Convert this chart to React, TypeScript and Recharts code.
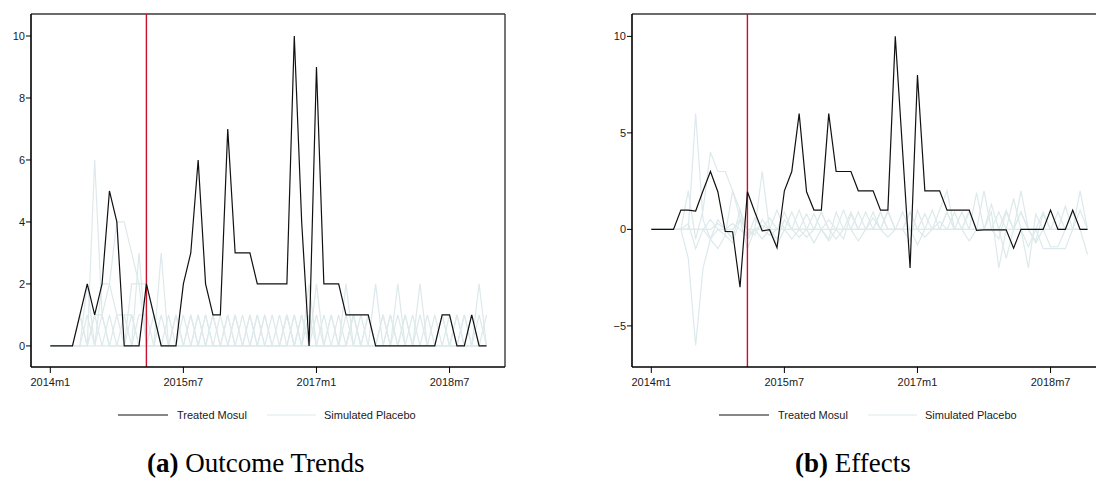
import React from "react";
import {
  LineChart,
  Line,
  XAxis,
  YAxis,
  ReferenceLine,
} from "recharts";

// monthly index 0 = 2014m1 ... 59 = 2018m12
const xTicks = [0, 18, 36, 54];
const xTickLabels = ["2014m1", "2015m7", "2017m1", "2018m7"];
const xDomain: [number, number] = [-2.61, 61.5];
const treatmentMonth = 13; // 2015m2

const trendTicks = [0, 2, 4, 6, 8, 10];
const effectTicks = [-5, 0, 5, 10];

// (a) outcome, treated unit
const treatedOutcome = [
  0, 0, 0, 0, 1, 2, 1, 2, 5, 4,
  0, 0, 0, 2, 1, 0, 0, 0, 2, 3,
  6, 2, 1, 1, 7, 3, 3, 3, 2, 2,
  2, 2, 2, 10, 4, 0, 9, 2, 2, 2,
  1, 1, 1, 1, 0, 0, 0, 0, 0, 0,
  0, 0, 0, 1, 1, 0, 0, 1, 0, 0,
];

// (a) outcome, placebo units
const placeboOutcome1 = [
  0, 0, 0, 0, 0, 0, 6, 1, 0, 0,
  0, 1, 0, 0, 1, 0, 0, 0, 0, 1,
  0, 0, 0, 1, 0, 0, 0, 1, 0, 0,
  0, 0, 1, 0, 0, 0, 1, 0, 0, 0,
  0, 1, 0, 0, 2, 0, 0, 0, 1, 0,
  0, 0, 0, 1, 0, 0, 0, 1, 0, 0,
];
const placeboOutcome2 = [
  0, 0, 0, 0, 0, 0, 1, 1, 2, 4,
  4, 3, 2, 2, 1, 0, 0, 1, 0, 0,
  1, 0, 0, 0, 1, 0, 0, 1, 0, 0,
  1, 0, 0, 1, 0, 2, 0, 0, 1, 0,
  2, 0, 0, 1, 0, 0, 0, 2, 0, 0,
  1, 0, 0, 0, 1, 0, 1, 0, 0, 0,
];
const placeboOutcome3 = [
  0, 0, 0, 0, 1, 0, 0, 2, 2, 1,
  1, 0, 3, 0, 0, 0, 1, 0, 0, 0,
  1, 0, 1, 0, 0, 1, 0, 0, 1, 0,
  0, 1, 0, 0, 1, 0, 0, 1, 0, 0,
  1, 0, 1, 0, 0, 1, 0, 0, 0, 0,
  2, 0, 0, 0, 0, 1, 0, 0, 0, 0,
];
const placeboOutcome4 = [
  0, 0, 0, 0, 0, 1, 0, 0, 1, 0,
  1, 1, 0, 0, 0, 3, 0, 0, 1, 0,
  0, 1, 0, 0, 0, 0, 1, 0, 0, 1,
  0, 0, 0, 1, 0, 0, 2, 0, 0, 0,
  0, 1, 0, 0, 0, 0, 1, 0, 0, 1,
  0, 0, 0, 0, 0, 0, 0, 0, 2, 0,
];
const placeboOutcome5 = [
  0, 0, 0, 0, 1, 0, 1, 0, 0, 1,
  0, 2, 2, 0, 0, 1, 0, 0, 0, 1,
  0, 0, 1, 0, 0, 1, 0, 0, 0, 1,
  0, 0, 1, 0, 0, 1, 0, 0, 0, 1,
  0, 0, 0, 1, 0, 0, 1, 0, 1, 0,
  0, 1, 0, 1, 0, 0, 1, 0, 1, 0,
];
const placeboOutcome6 = [
  0, 0, 0, 0, 0, 2, 0, 1, 0, 0,
  0, 0, 1, 1, 0, 0, 0, 1, 0, 0,
  0, 1, 0, 0, 1, 0, 0, 0, 1, 0,
  0, 0, 1, 0, 1, 0, 0, 0, 1, 0,
  0, 1, 0, 0, 0, 1, 0, 1, 0, 0,
  0, 0, 1, 0, 0, 1, 0, 0, 0, 1,
];

// (b) effects, treated unit
const treatedEffect = [
  0, 0, 0, 0, 1, 1, 0.95, 2, 3, 1.95,
  -0.1, -0.12, -3, 1.95, 0.9, -0.08, -0.02, -0.95, 2, 3,
  6, 1.95, 1, 1, 6, 3, 3, 3, 2, 2,
  2, 1, 1, 10, 4, -2, 8, 2, 2, 2,
  1, 1, 1, 1, -0.05, -0.03, -0.03, -0.02, -0.02, -0.97,
  0, 0, 0, 0, 1, 0, 0, 1, 0, 0,
];

// (b) effects, placebo units
const placeboEffect1 = [
  0, 0, 0, 0, 0, 0, 6, 0.5, -0.5, 0,
  0, 0.3, 0, -0.4, 0.6, 0, -0.3, 0, 0, 0.9,
  0, -0.4, 0, 0.9, 0, 0, -0.5, 0.8, 0, 0,
  0, 0, 0.9, 0, 0, -0.6, 1, 0, 0, 0,
  0, 0.9, 0, 0, 1.9, 0, 0, -0.5, 0.9, 0,
  0, 0, -0.6, 0.8, 0, 0, 0, 0.9, 0, 0,
];
const placeboEffect2 = [
  0, 0, 0, 0, 0, -1.5, -6, -2, -0.5, 0.5,
  0, -0.5, 1, 0, -0.3, 0.5, 0, 0, 0.9, 0,
  0, 0.8, 0, 0, -0.5, 0.9, 0, 0, 0.9, 0,
  0, 0.9, 0, 0, 0, 0.9, 0, -0.4, 0, 1,
  2, 0, 0, 0.9, 0, 0, 0.9, -2, 0, 0,
  0.9, 0, 0, -1, -1, -1, -1, 0, 0, -1.3,
];
const placeboEffect3 = [
  0, 0, 0, 0, 0, 2, -0.5, 1, 4, 3,
  3, 2, 1, -0.5, 0, 0.2, 0, 1, 0, 0,
  1, 0, 0, 0.9, 0, 0, 1, 0, 0, 0.9,
  0, 0, 1, 0, 0, 0.9, 0, 0, 1, 0,
  0, 0, 0.9, 0, 0, 2, 0, 0, 0, 0,
  2, 0, 0, 0.9, 0, 0, 0, 0, 2, 0,
];
const placeboEffect4 = [
  0, 0, 0, 0, 0, 0, 0, 0, 0.5, 0,
  -0.3, 2, 0.6, -0.3, 0, 3, 0, -0.5, 0.5, 0,
  -0.4, 0, 0.8, 0, -0.6, 0, 0, 0.9, 0, 0,
  0.9, 0, -0.4, 0, 0.9, 0, 0, 0.8, 0, 0,
  0.9, 0, 0, 1, 0, 0, 0, 0.9, 0, 1.6,
  0, -2, 0.8, 0, 0, 0, 1.2, 0, 0, 0,
];
const placeboEffect5 = [
  0, 0, 0, 0, 0, 0.3, -1, 0, -0.5, -1,
  -0.3, -0.7, 0.5, -1, 0, -0.5, 0, -0.8, 0, -0.5,
  0, 0, -0.7, 0, 0, -0.5, 0, 0, -0.6, 0,
  0, 0.9, 0, 0, 0, 0, -0.8, 0, 0, 0,
  0.9, 0, 0, -0.6, 0, 0, 1.3, 0, -1.5, 0,
  0.9, 0, -0.7, 0, 0, 0.9, 0, 0, 0, 0,
];
const placeboEffect6 = [
  0, 0, 0, 0, 0, 0, 0, 0, 0, 0.3,
  0, 0, 0.5, 0, 0, 0, 0.6, 0, 0, 0,
  0, 0, 0, 0, 0.5, 0, 0, 0, 0, 0,
  0.6, 0, 0, 0, 0, 0, 0, 0, 0, 0.4,
  0, 0, 0, 0, 0, 0, 0, 0, 1, 0,
  0, -0.9, 0, 0, -0.9, -0.9, 0, 0, 1, 0,
];

const TREATED = "#111111";
const PLACEBO = "#dde9eb";
const RED = "#c8102e";
const FRAME = "#3a3a3a";
const FONT = "'Liberation Sans', Arial, sans-serif";

function buildRows(treated: number[], placebos: number[][]) {
  return treated.map((v, i) => {
    const row: Record<string, number> = { x: i, treated: v };
    placebos.forEach((p, k) => {
      row["p" + k] = p[i];
    });
    return row;
  });
}

const outcomeRows = buildRows(treatedOutcome, [
  placeboOutcome1,
  placeboOutcome2,
  placeboOutcome3,
  placeboOutcome4,
  placeboOutcome5,
  placeboOutcome6,
]);
const effectRows = buildRows(treatedEffect, [
  placeboEffect1,
  placeboEffect2,
  placeboEffect3,
  placeboEffect4,
  placeboEffect5,
  placeboEffect6,
]);

const fmtX = (v: number) => xTickLabels[xTicks.indexOf(v)] ?? "";
const fmtY = (v: number) => (v < 0 ? "\u2212" + Math.abs(v) : String(v));

interface PanelProps {
  rows: Record<string, number>[];
  yDomain: [number, number];
  yTicks: number[];
  left: number;
}

function Panel({ rows, yDomain, yTicks, left }: PanelProps) {
  const tickStyle = { fontSize: 11, fill: "#1a1a1a", fontFamily: FONT };
  return (
    <div style={{ position: "absolute", left, top: 0 }}>
      <LineChart
        width={520}
        height={400}
        data={rows}
        margin={{ top: 14, right: 15, bottom: 3, left: 0 }}
      >
        <XAxis
          dataKey="x"
          type="number"
          domain={xDomain}
          ticks={xTicks}
          tickFormatter={fmtX}
          allowDataOverflow
          height={30}
          tick={tickStyle}
          tickSize={6}
          tickMargin={5}
          axisLine={{ stroke: "#000", strokeWidth: 1.6 }}
          tickLine={{ stroke: "#000" }}
        />
        <YAxis
          type="number"
          domain={yDomain}
          ticks={yTicks}
          tickFormatter={fmtY}
          allowDataOverflow
          width={31}
          tick={tickStyle}
          tickSize={5}
          tickMargin={1}
          axisLine={{ stroke: "#000", strokeWidth: 1.6 }}
          tickLine={{ stroke: "#000" }}
        />
        {/* plot-region border on the top and right */}
        <ReferenceLine y={yDomain[1]} stroke={FRAME} strokeWidth={1.4} />
        <ReferenceLine x={xDomain[1]} stroke={FRAME} strokeWidth={1.4} />
        {[0, 1, 2, 3, 4, 5].map((k) => (
          <Line
            key={k}
            dataKey={"p" + k}
            type="linear"
            stroke={PLACEBO}
            strokeWidth={1.2}
            dot={false}
            isAnimationActive={false}
          />
        ))}
        <ReferenceLine x={treatmentMonth} stroke={RED} strokeWidth={1.4} />
        <Line
          dataKey="treated"
          type="linear"
          stroke={TREATED}
          strokeWidth={1.2}
          dot={false}
          isAnimationActive={false}
        />
      </LineChart>
    </div>
  );
}

function LegendRow({ left }: { left: number }) {
  const text: React.CSSProperties = {
    position: "absolute",
    top: 408,
    fontFamily: FONT,
    fontSize: 11,
    lineHeight: "14px",
    color: "#1a1a1a",
    whiteSpace: "nowrap",
  };
  return (
    <div style={{ position: "absolute", left, top: 0 }}>
      <svg
        width={220}
        height={6}
        style={{ position: "absolute", left: 118, top: 412 }}
      >
        <line x1={0} y1={3} x2={50} y2={3} stroke={TREATED} strokeWidth={1.2} />
        <line x1={149} y1={3} x2={198} y2={3} stroke={PLACEBO} strokeWidth={1.2} />
      </svg>
      <div style={{ ...text, left: 177 }}>Treated Mosul</div>
      <div style={{ ...text, left: 324 }}>Simulated Placebo</div>
    </div>
  );
}

const caption: React.CSSProperties = {
  position: "absolute",
  top: 450,
  fontFamily: "'Liberation Serif', 'Times New Roman', serif",
  fontSize: 27,
  lineHeight: "27px",
  color: "#000",
  whiteSpace: "nowrap",
};

export default function App() {
  return (
    <div
      style={{
        position: "absolute",
        left: 0,
        top: 0,
        width: 1096,
        height: 489,
        overflow: "hidden",
        background: "#fff",
      }}
    >
      <Panel rows={outcomeRows} yDomain={[-0.68, 10.71]} yTicks={trendTicks} left={0} />
      <Panel rows={effectRows} yDomain={[-7.13, 11.16]} yTicks={effectTicks} left={601} />
      <LegendRow left={0} />
      <LegendRow left={601} />
      <div style={{ ...caption, left: 147 }}>
        <b>(a)</b> Outcome Trends
      </div>
      <div style={{ ...caption, left: 795 }}>
        <b>(b)</b> Effects
      </div>
    </div>
  );
}
